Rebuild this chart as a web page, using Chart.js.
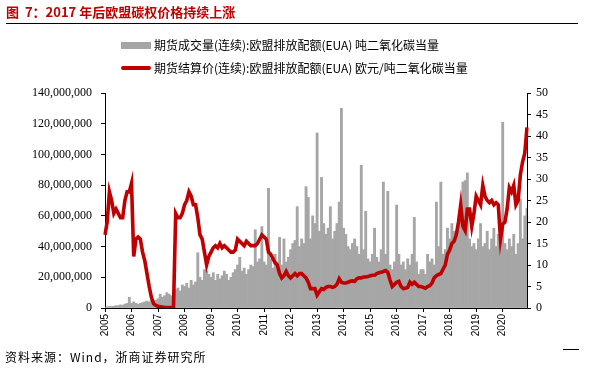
<!DOCTYPE html>
<html>
<head>
<meta charset="utf-8">
<script src="https://cdn.jsdelivr.net/npm/chart.js@4.4.1/dist/chart.umd.min.js"></script>
<style>
  body { margin: 0; background: #fff; }
  #wrap { position: relative; width: 589px; height: 376px; overflow: hidden; }
  #wrap canvas { position: absolute; left: 0; top: 0; }
  .txt { position: absolute; white-space: nowrap; font-family: "Noto Sans CJK SC", "Liberation Serif", serif; }
  #title { left: 6px; top: 3px; font-size: 13px; font-weight: bold; color: #c00000; line-height: 18px; }
  #rule { position: absolute; left: 6px; top: 23px; width: 572px; height: 1px; background: #000; }
  .leg { left: 154px; font-size: 12px; color: #000; line-height: 16px; }
  .sw { position: absolute; left: 121px; width: 30px; }
  #foot { left: 5px; top: 349px; font-size: 12px; color: #000; line-height: 16px; letter-spacing: 1px; }
  #dash { position: absolute; left: 563px; top: 349px; width: 16px; height: 1px; background: #000; }
</style>
</head>
<body>
<div id="wrap">
  <canvas id="miGrafico" width="589" height="376"></canvas>
  <div id="title" class="txt">图&nbsp; 7：2017 年后欧盟碳权价格持续上涨</div>
  <div id="rule"></div>
  <div class="sw" style="top:42px;height:7px;background:#a6a6a6;"></div>
  <div class="txt leg" style="top:37px;">期货成交量(连续):欧盟排放配额(EUA) 吨二氧化碳当量</div>
  <div class="sw" style="top:66px;height:4px;background:#c00000;border-radius:2px;"></div>
  <div class="txt leg" style="top:60px;">期货结算价(连续):欧盟排放配额(EUA) 欧元/吨二氧化碳当量</div>
  <div id="foot" class="txt">资料来源：Wind，浙商证券研究所</div>
  <div id="dash"></div>
</div>
<script>
// monthly points, Apr 2005 .. Mar 2021
const startYear = 2005;
const startMonth = 4;
const yearTicks = ['2005','2006','2007','2008','2009','2010','2011','2012','2013','2014','2015','2016','2017','2018','2019','2020'];

// futures volume, million tCO2e
const volumen = [
  0.5,0.8,1,1,1.2,1.5,1.5,2,1.8,2.5,3,7,
  3,4,3,2.5,3,3.5,4,4.5,4,5,4.5,5,
  6,9,7,8,10,9,8,10,12,13,11,15,
  14,16,13,18,15,17,36,20,18,25,24,22,
  20,23,18,22,19,21,24,22,18,20,23,25,
  28,33,24,26,22,25,28,27,51,30,32,53,
  30,28,78,32,26,35,30,46,28,45,30,33,
  38,42,44,66,40,45,42,79,72,45,60,55,
  114,50,85,55,48,52,66,45,50,55,69,130,
  52,48,40,38,42,45,40,35,93,38,63,32,
  30,35,52,33,30,38,82,35,76,28,25,30,
  67,35,28,30,25,32,28,35,59,30,22,25,
  25,22,35,30,32,28,69,40,82,35,38,52,
  45,55,50,48,58,60,82,83,88,45,40,42,
  38,45,55,40,42,50,38,45,52,40,48,57,
  121,42,38,45,40,48,35,42,71,45,60,65
];

// settlement price, EUR/tCO2e
const precio = [
  17,20,27,25,22,23,22,21,21,25,27,27,
  29,12,16,16.5,16,13,11,8,5,2.5,1,0.6,
  0.4,0.3,0.2,0.1,0.1,0.1,0.1,0.1,22,21,21,22,
  24,25,27,26,24,24,21,17,16,13,10,12,
  13,14,14.5,14,15,14,14.5,14,13.5,13,13,13.5,
  16,15.5,15,14.5,15.5,15,14.5,14.5,14.5,15,16,17,
  16.5,16,13,12.5,11.5,10.5,10,8,7,7.5,8.5,7.5,
  7,7.5,8,7.5,8,8,7.5,7,6,4.5,4.5,4.5,
  3,3.8,4.5,4.3,4.8,5,5,4.8,5,5.5,6.8,6,
  5.8,5.8,6,6.2,6.3,6.2,6.8,7,7,7.2,7.2,7.3,
  7.5,7.6,7.6,8,8.2,8.3,8.5,8.7,8.3,6.5,5,5.5,
  6,6.2,5,4.5,4.6,4.8,6,5.5,6,5.5,5,5,
  4.8,4.6,5,5.2,5.8,7,7.5,7.8,8,9,10,12.5,
  13.5,15,15.5,17,20,24,19,18,23,23,19,22,
  26,25,24,28.5,26,25,24.5,25,24,24.5,24,16,
  19.5,20,23,28,27,28.5,24,25,31,34,36,42
];

const labels = [];
for (let i = 0; i < precio.length; i++) {
    let m = startMonth - 1 + i;
    labels.push((startYear + Math.floor(m / 12)) + '-' + String(m % 12 + 1).padStart(2, '0'));
}

const serif = "'Liberation Serif', 'Times New Roman', serif";
const sans = "'Liberation Sans', Arial, sans-serif";

new Chart(document.getElementById('miGrafico'), {
    data: {
        labels: labels,
        datasets: [
            {
                type: 'line',
                data: precio,
                yAxisID: 'y2',
                borderColor: '#c00000',
                borderWidth: 3.6,
                pointRadius: 0,
                tension: 0,
                order: 0
            },
            {
                type: 'bar',
                data: volumen.map(v => v * 1e6),
                yAxisID: 'y',
                backgroundColor: '#a6a6a6',
                borderWidth: 0,
                barPercentage: 1,
                categoryPercentage: 1,
                order: 1
            }
        ]
    },
    options: {
        responsive: false,
        animation: false,
        layout: { padding: { top: 93, left: 0, right: 0, bottom: 0 } },
        plugins: { legend: { display: false }, tooltip: { enabled: false } },
        scales: {
            x: {
                type: 'category',
                offset: false,
                afterFit: s => { s.height = 68; },
                grid: { display: true, offset: false, drawOnChartArea: false, drawTicks: true, tickLength: 4, color: '#000' },
                border: { display: true, color: '#000', width: 1 },
                ticks: {
                    autoSkip: false,
                    minRotation: 90,
                    maxRotation: 90,
                    padding: 2,
                    color: '#000',
                    font: { family: sans, size: 10 },
                    callback: function(val, idx) {
                        return idx % 12 === 0 ? yearTicks[idx / 12] : null;
                    }
                }
            },
            y: {
                position: 'left',
                min: 0,
                max: 140000000,
                afterFit: s => { s.width = 105; },
                grid: { display: true, drawOnChartArea: false, drawTicks: true, tickLength: 4, color: '#000' },
                border: { display: true, color: '#000', width: 1 },
                ticks: {
                    stepSize: 20000000,
                    padding: 9,
                    color: '#000',
                    font: { family: serif, size: 12 },
                    callback: v => v.toLocaleString('en-US')
                }
            },
            y2: {
                position: 'right',
                min: 0,
                max: 50,
                afterFit: s => { s.width = 62; },
                grid: { display: true, drawOnChartArea: false, drawTicks: true, tickLength: 4, color: '#000' },
                border: { display: true, color: '#000', width: 1 },
                ticks: {
                    stepSize: 5,
                    padding: 5,
                    color: '#000',
                    font: { family: serif, size: 12 }
                }
            }
        }
    }
});
</script>
</body>
</html>
